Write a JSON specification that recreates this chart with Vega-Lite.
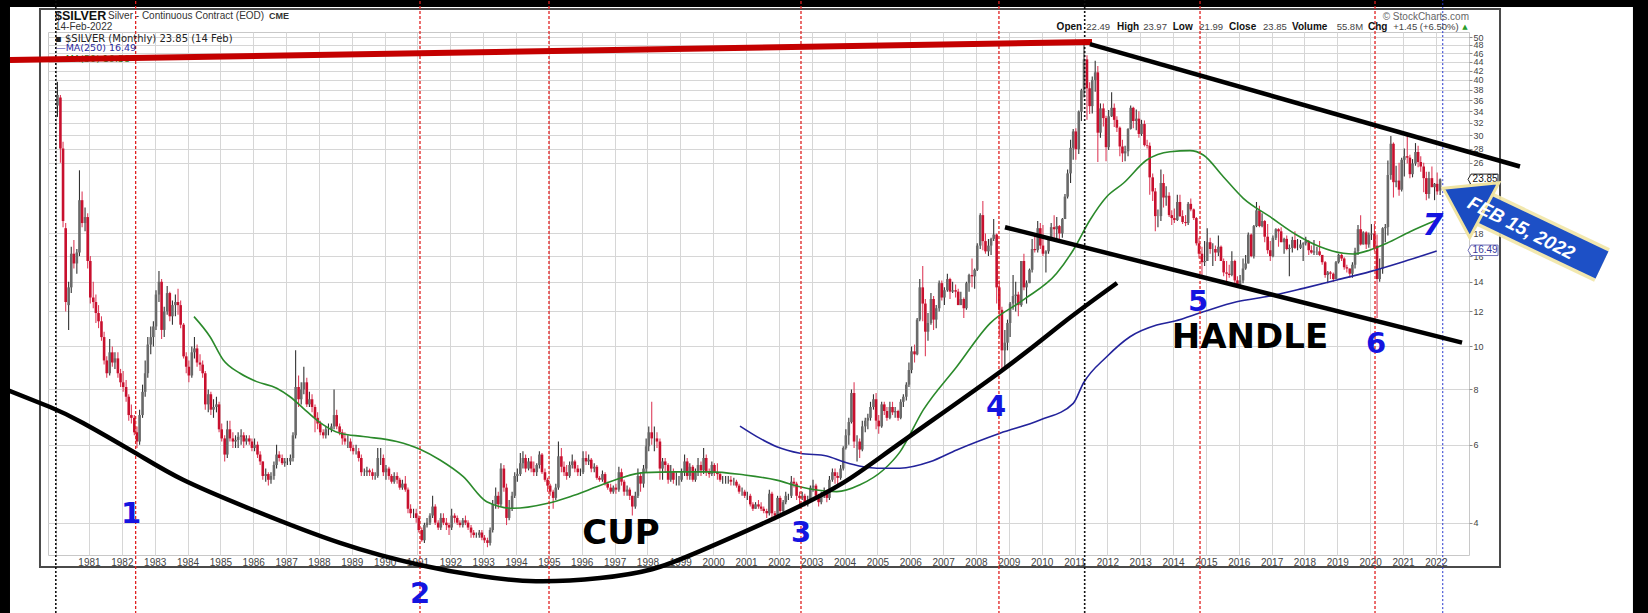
{
"$schema":"https://vega.github.io/schema/vega-lite/v6.json",
"width":1421,"height":523,
"autosize":{"type":"none"},
"padding":{"left":48,"top":32,"right":179,"bottom":58},
"background":"#ffffff",
"config":{"view":{"stroke":"#c8c8c8","strokeWidth":1},"font":"Liberation Sans","axis":{"labelOverlap":false,"labelFont":"Liberation Sans","labelColor":"#444444","gridColor":"#d6d6d6","domain":false}},
"data":{"values":[{}]},
"datasets":{
"candles":[
{"t":1980.04,"o":35,"h":39.6,"l":33,"c":37},{"t":1980.13,"o":36.5,"h":37,"l":26,"c":28},{"t":1980.21,"o":28,"h":29,"l":18.6,"c":19.2},{"t":1980.29,"o":18.5,"h":19,"l":12,"c":12.6},{"t":1980.38,"o":12.4,"h":14,"l":10.9,"c":13.6},{"t":1980.46,"o":13.6,"h":16.8,"l":13.2,"c":16.2},{"t":1980.54,"o":16.2,"h":17.4,"l":15,"c":15.4},{"t":1980.63,"o":15.4,"h":16.6,"l":14.6,"c":16.3},{"t":1980.71,"o":16.3,"h":25,"l":16,"c":21.4},{"t":1980.79,"o":21.4,"h":22.4,"l":18.6,"c":19},{"t":1980.88,"o":19,"h":20.6,"l":18.2,"c":19.6},{"t":1980.96,"o":19.6,"h":20,"l":15,"c":15.6},
{"t":1981.04,"o":15.6,"h":16,"l":12.5,"c":12.9},{"t":1981.13,"o":12.9,"h":14,"l":12.2,"c":12.6},{"t":1981.21,"o":12.6,"h":13.1,"l":11.3,"c":11.9},{"t":1981.29,"o":11.9,"h":12.4,"l":11,"c":11.4},{"t":1981.38,"o":11.4,"h":11.7,"l":10.3,"c":10.5},{"t":1981.46,"o":10.5,"h":10.8,"l":9.1,"c":9.3},{"t":1981.54,"o":9.3,"h":9.5,"l":8.5,"c":8.7},{"t":1981.63,"o":8.7,"h":10.4,"l":8.6,"c":9.7},{"t":1981.71,"o":9.7,"h":10,"l":9,"c":9.2},{"t":1981.79,"o":9.2,"h":9.7,"l":8.9,"c":9.4},{"t":1981.88,"o":9.4,"h":9.7,"l":8.5,"c":8.7},{"t":1981.96,"o":8.7,"h":8.9,"l":8.1,"c":8.3},
{"t":1982.04,"o":8.3,"h":8.8,"l":7.9,"c":8.1},{"t":1982.13,"o":8.1,"h":8.4,"l":7.5,"c":7.7},{"t":1982.21,"o":7.7,"h":7.8,"l":6.8,"c":7},{"t":1982.29,"o":7,"h":7.4,"l":6.7,"c":6.9},{"t":1982.38,"o":6.9,"h":7,"l":6.3,"c":6.4},{"t":1982.46,"o":6.4,"h":6.6,"l":5.9,"c":6.1},{"t":1982.54,"o":6.1,"h":7.2,"l":6,"c":7},{"t":1982.63,"o":7,"h":8.2,"l":6.9,"c":7.9},{"t":1982.71,"o":7.9,"h":9.3,"l":7.7,"c":8.7},{"t":1982.79,"o":8.7,"h":10.5,"l":8.5,"c":10.1},{"t":1982.88,"o":10.1,"h":11.1,"l":9.6,"c":10.5},{"t":1982.96,"o":10.5,"h":11.4,"l":10,"c":11.1},
{"t":1983.04,"o":11.1,"h":13.4,"l":10.9,"c":13.1},{"t":1983.13,"o":13.1,"h":14.8,"l":12.6,"c":14},{"t":1983.21,"o":14,"h":14.2,"l":10.4,"c":10.9},{"t":1983.29,"o":10.9,"h":12.3,"l":10.5,"c":12},{"t":1983.38,"o":12,"h":13.7,"l":11.8,"c":13.2},{"t":1983.46,"o":13.2,"h":13.3,"l":11.4,"c":11.7},{"t":1983.54,"o":11.7,"h":12.7,"l":11.2,"c":12.4},{"t":1983.63,"o":12.4,"h":13.1,"l":11.7,"c":12.6},{"t":1983.71,"o":12.6,"h":13.5,"l":11.8,"c":12.4},{"t":1983.79,"o":12.4,"h":12.7,"l":11,"c":11.2},{"t":1983.88,"o":11.2,"h":11.3,"l":9.4,"c":9.5},{"t":1983.96,"o":9.5,"h":9.7,"l":8.7,"c":9},
{"t":1984.04,"o":9,"h":9.3,"l":8.3,"c":8.6},{"t":1984.13,"o":8.6,"h":10,"l":8.5,"c":9.7},{"t":1984.21,"o":9.7,"h":10.5,"l":9.4,"c":9.9},{"t":1984.29,"o":9.9,"h":10.1,"l":9,"c":9.2},{"t":1984.38,"o":9.2,"h":9.6,"l":8.8,"c":9.1},{"t":1984.46,"o":9.1,"h":9.3,"l":8.5,"c":8.7},{"t":1984.54,"o":8.7,"h":8.8,"l":7.2,"c":7.4},{"t":1984.63,"o":7.4,"h":8,"l":7.1,"c":7.8},{"t":1984.71,"o":7.8,"h":7.9,"l":7,"c":7.2},{"t":1984.79,"o":7.2,"h":7.6,"l":6.9,"c":7.3},{"t":1984.88,"o":7.3,"h":7.7,"l":7.1,"c":7.4},{"t":1984.96,"o":7.4,"h":7.5,"l":6.4,"c":6.5},
{"t":1985.04,"o":6.5,"h":6.7,"l":6.1,"c":6.2},{"t":1985.13,"o":6.2,"h":6.3,"l":5.5,"c":5.7},{"t":1985.21,"o":5.7,"h":6.8,"l":5.6,"c":6.5},{"t":1985.29,"o":6.5,"h":6.8,"l":6.1,"c":6.2},{"t":1985.38,"o":6.2,"h":6.4,"l":5.9,"c":6.1},{"t":1985.46,"o":6.1,"h":6.3,"l":5.9,"c":6.15},{"t":1985.54,"o":6.15,"h":6.4,"l":5.9,"c":6.25},{"t":1985.63,"o":6.25,"h":6.5,"l":6,"c":6.3},{"t":1985.71,"o":6.3,"h":6.4,"l":5.9,"c":6.1},{"t":1985.79,"o":6.1,"h":6.3,"l":6,"c":6.2},{"t":1985.88,"o":6.2,"h":6.3,"l":6,"c":6.1},{"t":1985.96,"o":6.1,"h":6.2,"l":5.8,"c":5.9},
{"t":1986.04,"o":5.9,"h":6.2,"l":5.8,"c":6},{"t":1986.13,"o":6,"h":6.1,"l":5.6,"c":5.7},{"t":1986.21,"o":5.7,"h":5.8,"l":5.4,"c":5.5},{"t":1986.29,"o":5.5,"h":5.5,"l":5,"c":5.1},{"t":1986.38,"o":5.1,"h":5.3,"l":4.95,"c":5.15},{"t":1986.46,"o":5.15,"h":5.2,"l":4.85,"c":5},{"t":1986.54,"o":5,"h":5.2,"l":4.9,"c":5.1},{"t":1986.63,"o":5.1,"h":5.5,"l":5,"c":5.4},{"t":1986.71,"o":5.4,"h":6,"l":5.3,"c":5.7},{"t":1986.79,"o":5.7,"h":5.8,"l":5.5,"c":5.6},{"t":1986.88,"o":5.6,"h":5.7,"l":5.4,"c":5.45},{"t":1986.96,"o":5.45,"h":5.6,"l":5.35,"c":5.5},
{"t":1987.04,"o":5.5,"h":5.6,"l":5.4,"c":5.5},{"t":1987.13,"o":5.5,"h":5.7,"l":5.4,"c":5.6},{"t":1987.21,"o":5.6,"h":6.4,"l":5.5,"c":6.3},{"t":1987.29,"o":6.3,"h":9.8,"l":6.2,"c":8.1},{"t":1987.38,"o":8.1,"h":8.6,"l":7.3,"c":7.6},{"t":1987.46,"o":7.6,"h":8.3,"l":7.4,"c":8},{"t":1987.54,"o":8,"h":9,"l":7.8,"c":8.3},{"t":1987.63,"o":8.3,"h":8.5,"l":7.3,"c":7.4},{"t":1987.71,"o":7.4,"h":7.9,"l":7.3,"c":7.6},{"t":1987.79,"o":7.6,"h":7.8,"l":7.1,"c":7.3},{"t":1987.88,"o":7.3,"h":7.4,"l":6.4,"c":6.9},{"t":1987.96,"o":6.9,"h":7.1,"l":6.5,"c":6.7},
{"t":1988.04,"o":6.7,"h":6.8,"l":6.3,"c":6.4},{"t":1988.13,"o":6.4,"h":6.5,"l":6.2,"c":6.3},{"t":1988.21,"o":6.3,"h":6.6,"l":6.2,"c":6.5},{"t":1988.29,"o":6.5,"h":6.7,"l":6.3,"c":6.5},{"t":1988.38,"o":6.5,"h":6.7,"l":6.4,"c":6.6},{"t":1988.46,"o":6.6,"h":8,"l":6.5,"c":7},{"t":1988.54,"o":7,"h":7.2,"l":6.5,"c":6.6},{"t":1988.63,"o":6.6,"h":6.7,"l":6.3,"c":6.4},{"t":1988.71,"o":6.4,"h":6.5,"l":6,"c":6.2},{"t":1988.79,"o":6.2,"h":6.4,"l":6,"c":6.1},{"t":1988.88,"o":6.1,"h":6.3,"l":5.9,"c":6.1},{"t":1988.96,"o":6.1,"h":6.2,"l":5.8,"c":5.9},
{"t":1989.04,"o":5.9,"h":6,"l":5.7,"c":5.8},{"t":1989.13,"o":5.8,"h":6,"l":5.7,"c":5.8},{"t":1989.21,"o":5.8,"h":5.9,"l":5.5,"c":5.6},{"t":1989.29,"o":5.6,"h":5.7,"l":5.1,"c":5.2},{"t":1989.38,"o":5.2,"h":5.3,"l":5.1,"c":5.2},{"t":1989.46,"o":5.2,"h":5.35,"l":5.1,"c":5.25},{"t":1989.54,"o":5.25,"h":5.3,"l":5.1,"c":5.2},{"t":1989.63,"o":5.2,"h":5.3,"l":5,"c":5.1},{"t":1989.71,"o":5.1,"h":5.2,"l":5,"c":5.1},{"t":1989.79,"o":5.1,"h":5.9,"l":5.05,"c":5.6},{"t":1989.88,"o":5.6,"h":5.9,"l":5.4,"c":5.6},{"t":1989.96,"o":5.6,"h":5.7,"l":5.1,"c":5.2},
{"t":1990.04,"o":5.2,"h":5.4,"l":5,"c":5.3},{"t":1990.13,"o":5.3,"h":5.35,"l":5,"c":5.1},{"t":1990.21,"o":5.1,"h":5.15,"l":4.9,"c":4.95},{"t":1990.29,"o":4.95,"h":5.2,"l":4.9,"c":5.1},{"t":1990.38,"o":5.1,"h":5.2,"l":4.9,"c":5},{"t":1990.46,"o":5,"h":5.05,"l":4.75,"c":4.8},{"t":1990.54,"o":4.8,"h":5,"l":4.75,"c":4.9},{"t":1990.63,"o":4.9,"h":5.1,"l":4.7,"c":4.75},{"t":1990.71,"o":4.75,"h":4.8,"l":4.2,"c":4.3},{"t":1990.79,"o":4.3,"h":4.4,"l":4.1,"c":4.2},{"t":1990.88,"o":4.2,"h":4.3,"l":4.1,"c":4.2},{"t":1990.96,"o":4.2,"h":4.3,"l":4,"c":4.1},
{"t":1991.04,"o":4.1,"h":4.15,"l":3.8,"c":3.85},{"t":1991.13,"o":3.85,"h":3.9,"l":3.62,"c":3.65},{"t":1991.21,"o":3.65,"h":4,"l":3.6,"c":3.95},{"t":1991.29,"o":3.95,"h":4.1,"l":3.9,"c":4},{"t":1991.38,"o":4,"h":4.2,"l":3.95,"c":4.15},{"t":1991.46,"o":4.15,"h":4.6,"l":4.1,"c":4.35},{"t":1991.54,"o":4.35,"h":4.4,"l":3.95,"c":4},{"t":1991.63,"o":4,"h":4.05,"l":3.85,"c":3.9},{"t":1991.71,"o":3.9,"h":4.2,"l":3.85,"c":4.1},{"t":1991.79,"o":4.1,"h":4.2,"l":3.95,"c":4},{"t":1991.88,"o":4,"h":4.1,"l":3.85,"c":3.95},{"t":1991.96,"o":3.95,"h":4,"l":3.75,"c":3.9},
{"t":1992.04,"o":3.9,"h":4.3,"l":3.85,"c":4.15},{"t":1992.13,"o":4.15,"h":4.2,"l":4,"c":4.1},{"t":1992.21,"o":4.1,"h":4.15,"l":3.95,"c":4},{"t":1992.29,"o":4,"h":4.05,"l":3.9,"c":3.95},{"t":1992.38,"o":3.95,"h":4.1,"l":3.9,"c":4.05},{"t":1992.46,"o":4.05,"h":4.15,"l":3.95,"c":4},{"t":1992.54,"o":4,"h":4.05,"l":3.85,"c":3.9},{"t":1992.63,"o":3.9,"h":3.95,"l":3.7,"c":3.8},{"t":1992.71,"o":3.8,"h":3.85,"l":3.7,"c":3.75},{"t":1992.79,"o":3.75,"h":3.8,"l":3.7,"c":3.75},{"t":1992.88,"o":3.75,"h":3.85,"l":3.7,"c":3.8},{"t":1992.96,"o":3.8,"h":3.85,"l":3.65,"c":3.7},
{"t":1993.04,"o":3.7,"h":3.75,"l":3.6,"c":3.65},{"t":1993.13,"o":3.65,"h":3.7,"l":3.52,"c":3.6},{"t":1993.21,"o":3.6,"h":3.9,"l":3.55,"c":3.85},{"t":1993.29,"o":3.85,"h":4.5,"l":3.8,"c":4.4},{"t":1993.38,"o":4.4,"h":4.8,"l":4.3,"c":4.6},{"t":1993.46,"o":4.6,"h":4.7,"l":4.3,"c":4.4},{"t":1993.54,"o":4.4,"h":5.45,"l":4.35,"c":5.3},{"t":1993.63,"o":5.3,"h":5.4,"l":4.7,"c":4.8},{"t":1993.71,"o":4.8,"h":4.9,"l":3.95,"c":4.1},{"t":1993.79,"o":4.1,"h":4.5,"l":4.05,"c":4.3},{"t":1993.88,"o":4.3,"h":4.7,"l":4.25,"c":4.6},{"t":1993.96,"o":4.6,"h":5.2,"l":4.55,"c":5.1},
{"t":1994.04,"o":5.1,"h":5.3,"l":4.95,"c":5.15},{"t":1994.13,"o":5.15,"h":5.75,"l":5.1,"c":5.45},{"t":1994.21,"o":5.45,"h":5.8,"l":5.3,"c":5.6},{"t":1994.29,"o":5.6,"h":5.7,"l":5.2,"c":5.3},{"t":1994.38,"o":5.3,"h":5.6,"l":5.25,"c":5.5},{"t":1994.46,"o":5.5,"h":5.65,"l":5.2,"c":5.3},{"t":1994.54,"o":5.3,"h":5.5,"l":5.1,"c":5.2},{"t":1994.63,"o":5.2,"h":5.45,"l":5.1,"c":5.4},{"t":1994.71,"o":5.4,"h":5.8,"l":5.3,"c":5.7},{"t":1994.79,"o":5.7,"h":5.75,"l":5.15,"c":5.2},{"t":1994.88,"o":5.2,"h":5.3,"l":4.95,"c":5},{"t":1994.96,"o":5,"h":5.05,"l":4.7,"c":4.85},
{"t":1995.04,"o":4.85,"h":4.9,"l":4.6,"c":4.7},{"t":1995.13,"o":4.7,"h":4.75,"l":4.3,"c":4.55},{"t":1995.21,"o":4.55,"h":4.9,"l":4.5,"c":4.8},{"t":1995.29,"o":4.8,"h":6.1,"l":4.75,"c":5.65},{"t":1995.38,"o":5.65,"h":5.9,"l":5.2,"c":5.35},{"t":1995.46,"o":5.35,"h":5.5,"l":5.1,"c":5.2},{"t":1995.54,"o":5.2,"h":5.4,"l":5,"c":5.1},{"t":1995.63,"o":5.1,"h":5.5,"l":5.05,"c":5.4},{"t":1995.71,"o":5.4,"h":5.7,"l":5.3,"c":5.5},{"t":1995.79,"o":5.5,"h":5.55,"l":5.2,"c":5.3},{"t":1995.88,"o":5.3,"h":5.4,"l":5.1,"c":5.2},{"t":1995.96,"o":5.2,"h":5.3,"l":5.1,"c":5.2},
{"t":1996.04,"o":5.2,"h":5.8,"l":5.15,"c":5.6},{"t":1996.13,"o":5.6,"h":5.8,"l":5.4,"c":5.5},{"t":1996.21,"o":5.5,"h":5.7,"l":5.4,"c":5.55},{"t":1996.29,"o":5.55,"h":5.6,"l":5.2,"c":5.3},{"t":1996.38,"o":5.3,"h":5.45,"l":5.2,"c":5.35},{"t":1996.46,"o":5.35,"h":5.4,"l":5,"c":5.05},{"t":1996.54,"o":5.05,"h":5.1,"l":4.95,"c":5},{"t":1996.63,"o":5,"h":5.25,"l":4.95,"c":5.15},{"t":1996.71,"o":5.15,"h":5.2,"l":4.85,"c":4.9},{"t":1996.79,"o":4.9,"h":4.95,"l":4.75,"c":4.8},{"t":1996.88,"o":4.8,"h":4.9,"l":4.65,"c":4.7},{"t":1996.96,"o":4.7,"h":4.85,"l":4.65,"c":4.8},
{"t":1997.04,"o":4.8,"h":4.9,"l":4.65,"c":4.75},{"t":1997.13,"o":4.75,"h":5.35,"l":4.7,"c":5.2},{"t":1997.21,"o":5.2,"h":5.3,"l":4.85,"c":4.95},{"t":1997.29,"o":4.95,"h":5,"l":4.6,"c":4.7},{"t":1997.38,"o":4.7,"h":4.85,"l":4.6,"c":4.75},{"t":1997.46,"o":4.75,"h":4.8,"l":4.5,"c":4.6},{"t":1997.54,"o":4.6,"h":4.6,"l":4.15,"c":4.35},{"t":1997.63,"o":4.35,"h":4.7,"l":4.3,"c":4.6},{"t":1997.71,"o":4.6,"h":5.3,"l":4.55,"c":5.1},{"t":1997.79,"o":5.1,"h":5.2,"l":4.7,"c":4.9},{"t":1997.88,"o":4.9,"h":5.4,"l":4.8,"c":5.3},{"t":1997.96,"o":5.3,"h":6.2,"l":5.2,"c":5.95},
{"t":1998.04,"o":5.95,"h":6.6,"l":5.8,"c":6.4},{"t":1998.13,"o":6.4,"h":7.5,"l":6,"c":6.2},{"t":1998.21,"o":6.2,"h":6.6,"l":5.8,"c":6.2},{"t":1998.29,"o":6.2,"h":6.4,"l":5.9,"c":6.1},{"t":1998.38,"o":6.1,"h":6.2,"l":5,"c":5.3},{"t":1998.46,"o":5.3,"h":5.6,"l":5,"c":5.5},{"t":1998.54,"o":5.5,"h":5.6,"l":5.2,"c":5.4},{"t":1998.63,"o":5.4,"h":5.45,"l":4.9,"c":5},{"t":1998.71,"o":5,"h":5.4,"l":4.95,"c":5.2},{"t":1998.79,"o":5.2,"h":5.3,"l":4.9,"c":5},{"t":1998.88,"o":5,"h":5.2,"l":4.85,"c":5},{"t":1998.96,"o":5,"h":5.1,"l":4.85,"c":5},
{"t":1999.04,"o":5,"h":5.3,"l":4.95,"c":5.2},{"t":1999.13,"o":5.2,"h":5.7,"l":5.1,"c":5.5},{"t":1999.21,"o":5.5,"h":5.6,"l":5,"c":5.1},{"t":1999.29,"o":5.1,"h":5.45,"l":5,"c":5.35},{"t":1999.38,"o":5.35,"h":5.4,"l":4.95,"c":5},{"t":1999.46,"o":5,"h":5.3,"l":4.95,"c":5.2},{"t":1999.54,"o":5.2,"h":5.6,"l":5.1,"c":5.4},{"t":1999.63,"o":5.4,"h":5.5,"l":5.1,"c":5.25},{"t":1999.71,"o":5.25,"h":5.9,"l":5.15,"c":5.6},{"t":1999.79,"o":5.6,"h":5.7,"l":5.1,"c":5.2},{"t":1999.88,"o":5.2,"h":5.3,"l":5.05,"c":5.15},{"t":1999.96,"o":5.15,"h":5.5,"l":5.1,"c":5.4},
{"t":2000.04,"o":5.4,"h":5.45,"l":5.1,"c":5.2},{"t":2000.13,"o":5.2,"h":5.45,"l":5,"c":5.15},{"t":2000.21,"o":5.15,"h":5.2,"l":4.95,"c":5},{"t":2000.29,"o":5,"h":5.1,"l":4.9,"c":5},{"t":2000.38,"o":5,"h":5.1,"l":4.9,"c":5},{"t":2000.46,"o":5,"h":5.1,"l":4.9,"c":5},{"t":2000.54,"o":5,"h":5.1,"l":4.85,"c":4.95},{"t":2000.63,"o":4.95,"h":5.05,"l":4.85,"c":4.95},{"t":2000.71,"o":4.95,"h":5,"l":4.8,"c":4.85},{"t":2000.79,"o":4.85,"h":4.9,"l":4.65,"c":4.7},{"t":2000.88,"o":4.7,"h":4.8,"l":4.6,"c":4.7},{"t":2000.96,"o":4.7,"h":4.75,"l":4.55,"c":4.6},
{"t":2001.04,"o":4.6,"h":4.7,"l":4.5,"c":4.6},{"t":2001.13,"o":4.6,"h":4.65,"l":4.35,"c":4.4},{"t":2001.21,"o":4.4,"h":4.45,"l":4.25,"c":4.3},{"t":2001.29,"o":4.3,"h":4.45,"l":4.3,"c":4.4},{"t":2001.38,"o":4.4,"h":4.5,"l":4.3,"c":4.35},{"t":2001.46,"o":4.35,"h":4.45,"l":4.25,"c":4.3},{"t":2001.54,"o":4.3,"h":4.35,"l":4.2,"c":4.25},{"t":2001.63,"o":4.25,"h":4.3,"l":4.1,"c":4.2},{"t":2001.71,"o":4.2,"h":4.75,"l":4.15,"c":4.65},{"t":2001.79,"o":4.65,"h":4.7,"l":4.1,"c":4.2},{"t":2001.88,"o":4.2,"h":4.25,"l":4.05,"c":4.15},{"t":2001.96,"o":4.15,"h":4.6,"l":4.1,"c":4.55},
{"t":2002.04,"o":4.55,"h":4.6,"l":4.2,"c":4.25},{"t":2002.13,"o":4.25,"h":4.5,"l":4.2,"c":4.45},{"t":2002.21,"o":4.45,"h":4.7,"l":4.4,"c":4.6},{"t":2002.29,"o":4.6,"h":4.65,"l":4.5,"c":4.6},{"t":2002.38,"o":4.6,"h":5.1,"l":4.55,"c":4.95},{"t":2002.46,"o":4.95,"h":5.05,"l":4.8,"c":4.9},{"t":2002.54,"o":4.9,"h":4.95,"l":4.5,"c":4.6},{"t":2002.63,"o":4.6,"h":4.7,"l":4.4,"c":4.55},{"t":2002.71,"o":4.55,"h":4.7,"l":4.5,"c":4.6},{"t":2002.79,"o":4.6,"h":4.65,"l":4.35,"c":4.4},{"t":2002.88,"o":4.4,"h":4.6,"l":4.35,"c":4.5},{"t":2002.96,"o":4.5,"h":4.85,"l":4.45,"c":4.8},
{"t":2003.04,"o":4.8,"h":5,"l":4.7,"c":4.85},{"t":2003.13,"o":4.85,"h":4.9,"l":4.55,"c":4.6},{"t":2003.21,"o":4.6,"h":4.65,"l":4.35,"c":4.45},{"t":2003.29,"o":4.45,"h":4.7,"l":4.4,"c":4.6},{"t":2003.38,"o":4.6,"h":4.8,"l":4.55,"c":4.65},{"t":2003.46,"o":4.65,"h":4.75,"l":4.45,"c":4.55},{"t":2003.54,"o":4.55,"h":5.1,"l":4.5,"c":5},{"t":2003.63,"o":5,"h":5.3,"l":4.95,"c":5.2},{"t":2003.71,"o":5.2,"h":5.3,"l":4.9,"c":5.1},{"t":2003.79,"o":5.1,"h":5.2,"l":4.8,"c":5.05},{"t":2003.88,"o":5.05,"h":5.4,"l":5,"c":5.3},{"t":2003.96,"o":5.3,"h":5.95,"l":5.25,"c":5.9},
{"t":2004.04,"o":5.9,"h":6.5,"l":5.85,"c":6.3},{"t":2004.13,"o":6.3,"h":6.9,"l":6,"c":6.75},{"t":2004.21,"o":6.75,"h":8,"l":6.7,"c":7.85},{"t":2004.29,"o":7.85,"h":8.3,"l":5.9,"c":6.1},{"t":2004.38,"o":6.1,"h":6.3,"l":5.5,"c":6.1},{"t":2004.46,"o":6.1,"h":6.2,"l":5.6,"c":5.85},{"t":2004.54,"o":5.85,"h":6.8,"l":5.8,"c":6.6},{"t":2004.63,"o":6.6,"h":6.9,"l":6.4,"c":6.8},{"t":2004.71,"o":6.8,"h":7.05,"l":6.5,"c":6.9},{"t":2004.79,"o":6.9,"h":7.5,"l":6.8,"c":7.3},{"t":2004.88,"o":7.3,"h":7.8,"l":7.2,"c":7.6},{"t":2004.96,"o":7.6,"h":7.85,"l":6.5,"c":6.8},
{"t":2005.04,"o":6.8,"h":7,"l":6.35,"c":6.6},{"t":2005.13,"o":6.6,"h":7.5,"l":6.55,"c":7.4},{"t":2005.21,"o":7.4,"h":7.5,"l":7,"c":7.15},{"t":2005.29,"o":7.15,"h":7.3,"l":6.8,"c":6.9},{"t":2005.38,"o":6.9,"h":7.5,"l":6.85,"c":7.3},{"t":2005.46,"o":7.3,"h":7.5,"l":7,"c":7.1},{"t":2005.54,"o":7.1,"h":7.3,"l":6.9,"c":7.15},{"t":2005.63,"o":7.15,"h":7.2,"l":6.8,"c":6.9},{"t":2005.71,"o":6.9,"h":7.6,"l":6.85,"c":7.5},{"t":2005.79,"o":7.5,"h":7.8,"l":7.3,"c":7.7},{"t":2005.88,"o":7.7,"h":8.3,"l":7.55,"c":8.2},{"t":2005.96,"o":8.2,"h":9.2,"l":8.1,"c":8.85},
{"t":2006.04,"o":8.85,"h":10,"l":8.7,"c":9.75},{"t":2006.13,"o":9.75,"h":10.1,"l":9.2,"c":9.6},{"t":2006.21,"o":9.6,"h":11.6,"l":9.55,"c":11.5},{"t":2006.29,"o":11.5,"h":14.2,"l":11.4,"c":13.6},{"t":2006.38,"o":13.6,"h":15.2,"l":11.4,"c":12.5},{"t":2006.46,"o":12.5,"h":12.8,"l":9.5,"c":10.8},{"t":2006.54,"o":10.8,"h":11.9,"l":10.3,"c":11.3},{"t":2006.63,"o":11.3,"h":13.2,"l":11.2,"c":12.8},{"t":2006.71,"o":12.8,"h":13,"l":10.9,"c":11.5},{"t":2006.79,"o":11.5,"h":12.4,"l":11,"c":12.2},{"t":2006.88,"o":12.2,"h":14.1,"l":12,"c":13.9},{"t":2006.96,"o":13.9,"h":14.1,"l":12.7,"c":12.9},
{"t":2007.04,"o":12.9,"h":13.6,"l":12.4,"c":13.4},{"t":2007.13,"o":13.4,"h":14.6,"l":13.3,"c":14.2},{"t":2007.21,"o":14.2,"h":14.3,"l":12.8,"c":13.3},{"t":2007.29,"o":13.3,"h":14,"l":13.2,"c":13.4},{"t":2007.38,"o":13.4,"h":13.8,"l":12.9,"c":13.3},{"t":2007.46,"o":13.3,"h":13.5,"l":12.4,"c":12.4},{"t":2007.54,"o":12.4,"h":13.3,"l":12.4,"c":12.8},{"t":2007.63,"o":12.8,"h":12.9,"l":11.6,"c":12.2},{"t":2007.71,"o":12.2,"h":14,"l":12.1,"c":13.9},{"t":2007.79,"o":13.9,"h":14.6,"l":13.3,"c":14.5},{"t":2007.88,"o":14.5,"h":15.8,"l":13.6,"c":14.4},{"t":2007.96,"o":14.4,"h":15,"l":13.5,"c":14.9},
{"t":2008.04,"o":14.9,"h":17.1,"l":14.8,"c":16.9},{"t":2008.13,"o":16.9,"h":20,"l":16.6,"c":19.8},{"t":2008.21,"o":19.8,"h":21.3,"l":16.5,"c":17.3},{"t":2008.29,"o":17.3,"h":18,"l":16.2,"c":16.4},{"t":2008.38,"o":16.4,"h":17.5,"l":16,"c":16.9},{"t":2008.46,"o":16.9,"h":17.6,"l":16.1,"c":17.5},{"t":2008.54,"o":17.5,"h":19.4,"l":17.3,"c":17.9},{"t":2008.63,"o":17.9,"h":18,"l":12.5,"c":13.6},{"t":2008.71,"o":13.6,"h":14.1,"l":10.5,"c":12.1},{"t":2008.79,"o":12.1,"h":12.3,"l":8.8,"c":9.8},{"t":2008.88,"o":9.8,"h":10.9,"l":8.9,"c":10.2},{"t":2008.96,"o":10.2,"h":11.5,"l":9.8,"c":11.3},
{"t":2009.04,"o":11.3,"h":12.6,"l":10.5,"c":12.5},{"t":2009.13,"o":12.5,"h":14.5,"l":12.1,"c":13},{"t":2009.21,"o":13,"h":14,"l":12,"c":13.1},{"t":2009.29,"o":13.1,"h":13.3,"l":11.7,"c":12.4},{"t":2009.38,"o":12.4,"h":15.6,"l":12.3,"c":15.6},{"t":2009.46,"o":15.6,"h":16.2,"l":13.4,"c":13.6},{"t":2009.54,"o":13.6,"h":14.1,"l":12.5,"c":13.9},{"t":2009.63,"o":13.9,"h":15,"l":13.9,"c":14.9},{"t":2009.71,"o":14.9,"h":17.5,"l":14.7,"c":16.6},{"t":2009.79,"o":16.6,"h":18,"l":16.3,"c":16.5},{"t":2009.88,"o":16.5,"h":19.2,"l":16.3,"c":18.5},{"t":2009.96,"o":18.5,"h":19,"l":16.6,"c":16.9},
{"t":2010.04,"o":16.9,"h":18.8,"l":16,"c":16.2},{"t":2010.13,"o":16.2,"h":16.5,"l":14.7,"c":16.4},{"t":2010.21,"o":16.4,"h":17.7,"l":16.2,"c":17.5},{"t":2010.29,"o":17.5,"h":19,"l":17.3,"c":18.6},{"t":2010.38,"o":18.6,"h":19.8,"l":17.3,"c":18.4},{"t":2010.46,"o":18.4,"h":19.6,"l":17.5,"c":18.7},{"t":2010.54,"o":18.7,"h":18.8,"l":17.5,"c":18},{"t":2010.63,"o":18,"h":19.5,"l":17.6,"c":19.4},{"t":2010.71,"o":19.4,"h":22.1,"l":19.4,"c":21.8},{"t":2010.79,"o":21.8,"h":25.1,"l":21.6,"c":24.6},{"t":2010.88,"o":24.6,"h":29.3,"l":23.4,"c":28.1},{"t":2010.96,"o":28.1,"h":31,"l":26.4,"c":30.6},
{"t":2011.04,"o":30.6,"h":31.1,"l":26.4,"c":27.9},{"t":2011.13,"o":27.9,"h":34.1,"l":27.2,"c":33.9},{"t":2011.21,"o":33.9,"h":38.2,"l":32.3,"c":37.9},{"t":2011.29,"o":37.9,"h":48.6,"l":36.5,"c":44.5},{"t":2011.38,"o":44.5,"h":45.5,"l":32.5,"c":38.3},{"t":2011.46,"o":38.3,"h":39.5,"l":33.5,"c":34.9},{"t":2011.54,"o":34.9,"h":40.7,"l":33.6,"c":40},{"t":2011.63,"o":40,"h":44.2,"l":37.6,"c":41.6},{"t":2011.71,"o":41.6,"h":43,"l":26.1,"c":30.4},{"t":2011.79,"o":30.4,"h":35.4,"l":29.6,"c":34.5},{"t":2011.88,"o":34.5,"h":35.4,"l":31.4,"c":32.8},{"t":2011.96,"o":32.8,"h":33.2,"l":26.2,"c":28.2},
{"t":2012.04,"o":28.2,"h":34.2,"l":27.8,"c":33.1},{"t":2012.13,"o":33.1,"h":37.5,"l":33,"c":34.6},{"t":2012.21,"o":34.6,"h":35.4,"l":31.3,"c":32.5},{"t":2012.29,"o":32.5,"h":33.1,"l":30.5,"c":31.2},{"t":2012.38,"o":31.2,"h":31.4,"l":26.9,"c":28.3},{"t":2012.46,"o":28.3,"h":29.3,"l":26.1,"c":27.3},{"t":2012.54,"o":27.3,"h":28.4,"l":26.2,"c":27.6},{"t":2012.63,"o":27.6,"h":31.1,"l":26.9,"c":31},{"t":2012.71,"o":31,"h":35,"l":30.9,"c":34.6},{"t":2012.79,"o":34.6,"h":34.8,"l":31.1,"c":32.3},{"t":2012.88,"o":32.3,"h":34.3,"l":30.8,"c":32.7},{"t":2012.96,"o":32.7,"h":34,"l":29.6,"c":30.2},
{"t":2013.04,"o":30.2,"h":32.5,"l":29.9,"c":31.8},{"t":2013.13,"o":31.8,"h":32.4,"l":28.3,"c":28.5},{"t":2013.21,"o":28.5,"h":29.3,"l":28,"c":28.4},{"t":2013.29,"o":28.4,"h":28.9,"l":22,"c":24.1},{"t":2013.38,"o":24.1,"h":24.6,"l":21.3,"c":22.4},{"t":2013.46,"o":22.4,"h":22.8,"l":18.2,"c":19.7},{"t":2013.54,"o":19.7,"h":20.4,"l":18.6,"c":19.7},{"t":2013.63,"o":19.7,"h":25.1,"l":19.2,"c":23.4},{"t":2013.71,"o":23.4,"h":24.5,"l":20.6,"c":21.7},{"t":2013.79,"o":21.7,"h":23,"l":20.8,"c":21.9},{"t":2013.88,"o":21.9,"h":22.3,"l":19.6,"c":19.8},{"t":2013.96,"o":19.8,"h":20.3,"l":18.8,"c":19.5},
{"t":2014.04,"o":19.5,"h":20.5,"l":19,"c":19.3},{"t":2014.13,"o":19.3,"h":22,"l":19.2,"c":21.2},{"t":2014.21,"o":21.2,"h":22,"l":19.6,"c":19.7},{"t":2014.29,"o":19.7,"h":20.3,"l":18.9,"c":19.1},{"t":2014.38,"o":19.1,"h":19.8,"l":18.7,"c":19},{"t":2014.46,"o":19,"h":21.2,"l":18.8,"c":21},{"t":2014.54,"o":21,"h":21.6,"l":20.2,"c":20.4},{"t":2014.63,"o":20.4,"h":20.5,"l":19.3,"c":19.5},{"t":2014.71,"o":19.5,"h":19.6,"l":16.9,"c":17.1},{"t":2014.79,"o":17.1,"h":17.6,"l":15.8,"c":16.2},{"t":2014.88,"o":16.2,"h":16.8,"l":14.2,"c":15.5},{"t":2014.96,"o":15.5,"h":17.3,"l":15.2,"c":15.6},
{"t":2015.04,"o":15.6,"h":18.5,"l":15.6,"c":17.2},{"t":2015.13,"o":17.2,"h":17.6,"l":16.2,"c":16.6},{"t":2015.21,"o":16.6,"h":17.1,"l":15.2,"c":16.6},{"t":2015.29,"o":16.6,"h":16.9,"l":15.6,"c":16.3},{"t":2015.38,"o":16.3,"h":17.8,"l":16,"c":16.8},{"t":2015.46,"o":16.8,"h":16.9,"l":15.6,"c":15.6},{"t":2015.54,"o":15.6,"h":15.8,"l":14.4,"c":14.7},{"t":2015.63,"o":14.7,"h":15.6,"l":14,"c":14.6},{"t":2015.71,"o":14.6,"h":15.3,"l":14.3,"c":14.5},{"t":2015.79,"o":14.5,"h":16.4,"l":14.4,"c":15.6},{"t":2015.88,"o":15.6,"h":15.7,"l":13.9,"c":14.1},{"t":2015.96,"o":14.1,"h":14.4,"l":13.6,"c":13.8},
{"t":2016.04,"o":13.8,"h":14.5,"l":13.6,"c":14.1},{"t":2016.13,"o":14.1,"h":15.8,"l":13.9,"c":15},{"t":2016.21,"o":15,"h":16.1,"l":14.9,"c":15.4},{"t":2016.29,"o":15.4,"h":18.1,"l":15.4,"c":17.9},{"t":2016.38,"o":17.9,"h":18,"l":15.9,"c":16},{"t":2016.46,"o":16,"h":18.8,"l":15.8,"c":18.7},{"t":2016.54,"o":18.7,"h":21.2,"l":18.6,"c":20.3},{"t":2016.63,"o":20.3,"h":20.8,"l":18.6,"c":18.7},{"t":2016.71,"o":18.7,"h":20,"l":18.6,"c":19.2},{"t":2016.79,"o":19.2,"h":19.3,"l":17.2,"c":17.7},{"t":2016.88,"o":17.7,"h":18.9,"l":16.2,"c":16.5},{"t":2016.96,"o":16.5,"h":17.3,"l":15.6,"c":16},
{"t":2017.04,"o":16,"h":17.8,"l":15.9,"c":17.6},{"t":2017.13,"o":17.6,"h":18.5,"l":17.4,"c":18.4},{"t":2017.21,"o":18.4,"h":18.5,"l":16.8,"c":18.2},{"t":2017.29,"o":18.2,"h":18.6,"l":17.2,"c":17.2},{"t":2017.38,"o":17.2,"h":17.6,"l":16.2,"c":17.5},{"t":2017.46,"o":17.5,"h":17.8,"l":16.5,"c":16.6},{"t":2017.54,"o":16.6,"h":17,"l":14.4,"c":16.7},{"t":2017.63,"o":16.7,"h":17.7,"l":16.3,"c":17.4},{"t":2017.71,"o":17.4,"h":18.2,"l":16.6,"c":16.7},{"t":2017.79,"o":16.7,"h":17.5,"l":16.5,"c":16.7},{"t":2017.88,"o":16.7,"h":17.4,"l":16.6,"c":17},{"t":2017.96,"o":17,"h":17.2,"l":15.6,"c":17.1},
{"t":2018.04,"o":17.1,"h":17.7,"l":16.9,"c":17.3},{"t":2018.13,"o":17.3,"h":17.4,"l":16.1,"c":16.5},{"t":2018.21,"o":16.5,"h":16.9,"l":16.2,"c":16.3},{"t":2018.29,"o":16.3,"h":17.4,"l":16.1,"c":16.4},{"t":2018.38,"o":16.4,"h":16.8,"l":16.1,"c":16.4},{"t":2018.46,"o":16.4,"h":17.3,"l":16,"c":16.1},{"t":2018.54,"o":16.1,"h":16.1,"l":15.3,"c":15.5},{"t":2018.63,"o":15.5,"h":15.6,"l":14.3,"c":14.5},{"t":2018.71,"o":14.5,"h":14.8,"l":13.9,"c":14.7},{"t":2018.79,"o":14.7,"h":14.8,"l":14.2,"c":14.6},{"t":2018.88,"o":14.6,"h":14.7,"l":14,"c":14.2},{"t":2018.96,"o":14.2,"h":15.6,"l":14.2,"c":15.5},
{"t":2019.04,"o":15.5,"h":16.2,"l":15.4,"c":16.1},{"t":2019.13,"o":16.1,"h":16.2,"l":15.6,"c":15.8},{"t":2019.21,"o":15.8,"h":15.9,"l":14.9,"c":15.1},{"t":2019.29,"o":15.1,"h":15.3,"l":14.7,"c":15},{"t":2019.38,"o":15,"h":15,"l":14.3,"c":14.6},{"t":2019.46,"o":14.6,"h":15.5,"l":14.3,"c":15.3},{"t":2019.54,"o":15.3,"h":16.7,"l":15,"c":16.4},{"t":2019.63,"o":16.4,"h":18.8,"l":16.1,"c":18.4},{"t":2019.71,"o":18.4,"h":19.8,"l":16.9,"c":17},{"t":2019.79,"o":17,"h":18.2,"l":17,"c":18.1},{"t":2019.88,"o":18.1,"h":18.2,"l":16.6,"c":17},{"t":2019.96,"o":17,"h":18.1,"l":16.7,"c":17.9},
{"t":2020.04,"o":17.9,"h":18.9,"l":17.4,"c":18},{"t":2020.13,"o":18,"h":18.9,"l":16.4,"c":16.7},{"t":2020.21,"o":16.9,"h":17.9,"l":11.6,"c":14.2},{"t":2020.29,"o":14.2,"h":15.8,"l":14,"c":15},{"t":2020.38,"o":15,"h":18.6,"l":14.6,"c":18.5},{"t":2020.46,"o":18.5,"h":18.9,"l":17.2,"c":18.6},{"t":2020.54,"o":18.6,"h":26.3,"l":17.8,"c":24.4},{"t":2020.63,"o":24.4,"h":29.9,"l":23.8,"c":28.7},{"t":2020.71,"o":28.7,"h":28.9,"l":21.7,"c":23.5},{"t":2020.79,"o":23.5,"h":25.6,"l":22.9,"c":23.7},{"t":2020.88,"o":23.7,"h":26,"l":21.9,"c":22.6},{"t":2020.96,"o":22.6,"h":26.7,"l":22.4,"c":26.4},
{"t":2021.04,"o":26.4,"h":28,"l":24.2,"c":26.9},{"t":2021.13,"o":26.9,"h":30.1,"l":25.9,"c":26.7},{"t":2021.21,"o":26.7,"h":27.1,"l":24,"c":24.5},{"t":2021.29,"o":24.5,"h":26.5,"l":24.1,"c":25.9},{"t":2021.38,"o":25.9,"h":28.8,"l":25.6,"c":27.5},{"t":2021.46,"o":27.5,"h":28.4,"l":25.4,"c":26.1},{"t":2021.54,"o":26.1,"h":26.9,"l":24.8,"c":25.5},{"t":2021.63,"o":25.5,"h":26,"l":22.3,"c":24},{"t":2021.71,"o":24,"h":24.8,"l":21.4,"c":22.1},{"t":2021.79,"o":22.1,"h":24.8,"l":21.6,"c":24},{"t":2021.88,"o":24,"h":25.5,"l":22.9,"c":22.9},{"t":2021.96,"o":22.9,"h":23.4,"l":21.4,"c":23.3},
{"t":2022.04,"o":23.3,"h":24.7,"l":22,"c":22.4},{"t":2022.13,"o":22.49,"h":23.97,"l":21.99,"c":23.85}
],
"ma50":[{"t":1984.196,"p":11.68},{"t":1984.684,"p":10.52},{"t":1985.088,"p":9.32},{"t":1985.597,"p":8.7},{"t":1986.105,"p":8.33},{"t":1986.714,"p":8.05},{"t":1987.119,"p":7.7},{"t":1987.524,"p":7.25},{"t":1987.932,"p":6.82},{"t":1988.641,"p":6.37},{"t":1989.35,"p":6.26},{"t":1990.367,"p":6.1},{"t":1991.076,"p":5.86},{"t":1991.685,"p":5.54},{"t":1992.394,"p":5.08},{"t":1993.107,"p":4.46},{"t":1993.916,"p":4.31},{"t":1994.933,"p":4.42},{"t":1995.642,"p":4.58},{"t":1996.455,"p":4.82},{"t":1997.164,"p":5.04},{"t":1997.874,"p":5.19},{"t":1998.891,"p":5.21},{"t":1999.904,"p":5.21},{"t":2000.918,"p":5.13},{"t":2001.935,"p":4.99},{"t":2002.644,"p":4.82},{"t":2003.152,"p":4.74},{"t":2003.761,"p":4.7},{"t":2004.47,"p":4.87},{"t":2005.18,"p":5.26},{"t":2005.688,"p":5.78},{"t":2006.397,"p":7.19},{"t":2007.414,"p":9.0},{"t":2008.428,"p":11.28},{"t":2009.441,"p":12.74},{"t":2010.458,"p":14.63},{"t":2010.963,"p":16.52},{"t":2011.472,"p":19.31},{"t":2011.98,"p":21.79},{"t":2012.486,"p":23.37},{"t":2013.198,"p":26.37},{"t":2013.907,"p":27.54},{"t":2014.516,"p":27.69},{"t":2014.921,"p":27.07},{"t":2015.53,"p":24.18},{"t":2016.139,"p":21.61},{"t":2016.951,"p":19.64},{"t":2017.764,"p":17.86},{"t":2018.473,"p":16.8},{"t":2019.183,"p":16.24},{"t":2019.487,"p":16.18},{"t":2019.996,"p":16.52},{"t":2020.504,"p":17.1},{"t":2021.213,"p":18.17},{"t":2022.026,"p":19.31}],
"ma250":[{"t":2000.817,"p":6.61},{"t":2001.426,"p":6.2},{"t":2001.935,"p":5.94},{"t":2002.644,"p":5.74},{"t":2003.457,"p":5.66},{"t":2003.963,"p":5.49},{"t":2004.571,"p":5.35},{"t":2004.979,"p":5.31},{"t":2005.688,"p":5.31},{"t":2006.601,"p":5.49},{"t":2007.414,"p":5.84},{"t":2008.732,"p":6.37},{"t":2009.95,"p":6.82},{"t":2010.963,"p":7.44},{"t":2011.268,"p":8.26},{"t":2011.98,"p":9.48},{"t":2012.69,"p":10.52},{"t":2013.502,"p":11.18},{"t":2014.059,"p":11.42},{"t":2014.921,"p":11.98},{"t":2015.938,"p":12.62},{"t":2016.951,"p":13.0},{"t":2017.965,"p":13.53},{"t":2018.982,"p":14.13},{"t":2019.996,"p":14.76},{"t":2021.009,"p":15.54},{"t":2022.026,"p":16.43}],
"cup":[{"t":1978.291,"p":8.1},{"t":1979.813,"p":7.3},{"t":1980.817,"p":6.72},{"t":1982.461,"p":5.72},{"t":1983.862,"p":5.0},{"t":1985.901,"p":4.3},{"t":1988.641,"p":3.6},{"t":1991.076,"p":3.21},{"t":1992.903,"p":3.03},{"t":1994.607,"p":2.95},{"t":1996.556,"p":3.0},{"t":1998.138,"p":3.14},{"t":1999.6,"p":3.45},{"t":2001.944,"p":4.12},{"t":2003.953,"p":4.92},{"t":2005.688,"p":6.05},{"t":2008.732,"p":8.76},{"t":2010.65,"p":11.3},{"t":2012.295,"p":13.91}]
},
"resolve":{"axis":{"x":"shared","y":"shared"}},
"layer":[
{"data":{"name":"candles"},"mark":{"type":"rule","strokeWidth":1.1,"clip":false},
 "encoding":{
  "x":{"field":"t","type":"quantitative","scale":{"domain":[1979.752,2023.009],"nice":false,"zero":false},
   "axis":{"orient":"bottom","tickCount":500,"values":[1980,1980.5,1981,1981.5,1982,1982.5,1983,1983.5,1984,1984.5,1985,1985.5,1986,1986.5,1987,1987.5,1988,1988.5,1989,1989.5,1990,1990.5,1991,1991.5,1992,1992.5,1993,1993.5,1994,1994.5,1995,1995.5,1996,1996.5,1997,1997.5,1998,1998.5,1999,1999.5,2000,2000.5,2001,2001.5,2002,2002.5,2003,2003.5,2004,2004.5,2005,2005.5,2006,2006.5,2007,2007.5,2008,2008.5,2009,2009.5,2010,2010.5,2011,2011.5,2012,2012.5,2013,2013.5,2014,2014.5,2015,2015.5,2016,2016.5,2017,2017.5,2018,2018.5,2019,2019.5,2020,2020.5,2021,2021.5,2022,2022.5],
    "format":"d","labelExpr":"(datum.value % 1 == 0 && datum.value > 1980) ? datum.label : ''",
    "grid":true,"gridColor":"#d6d6d6","gridWidth":1,"ticks":false,"tickSize":0,"domain":false,
    "labelFontSize":10,"labelColor":"#444444","labelFont":"Liberation Sans","labelPadding":2,"title":null,"labelOverlap":false,"labelSeparation":0,"labelFlush":false,"labelBound":false}},
  "y":{"field":"l","type":"quantitative","scale":{"type":"log","domain":[3.381,51.32],"nice":false},
   "axis":{"orient":"right","tickCount":500,"values":[4,6,8,10,12,14,16,18,26,28,30,32,34,36,38,40,42,44,46,48,50],"format":"d",
    "grid":true,"gridColor":"#d6d6d6","gridWidth":1,"ticks":true,"tickSize":3,"tickColor":"#888888","domain":false,
    "labelFontSize":9,"labelColor":"#444444","labelFont":"Liberation Sans","labelPadding":1,"title":null,"labelOverlap":false,"labelBound":false}},
  "y2":{"field":"h"},
  "color":{"condition":{"test":"datum.c >= datum.o","value":"#333333"},"value":"#de3f5c"}}},
{"data":{"name":"candles"},"mark":{"type":"rule","strokeWidth":2.6,"clip":false},
 "encoding":{"x":{"field":"t","type":"quantitative"},"y":{"field":"o","type":"quantitative"},"y2":{"field":"c"},
  "color":{"condition":{"test":"datum.c >= datum.o","value":"#6a6a6a"},"value":"#c8102e"}}},
{"mark":{"type":"rect","color":"#000000","clip":false},
 "encoding":{"x":{"datum":1976.77,"type":"quantitative"},"x2":{"datum":2030.04},"y":{"datum":58.45,"type":"quantitative"},"y2":{"datum":100}}},
{"mark":{"type":"rect","color":"#000000","clip":false},
 "encoding":{"x":{"datum":1976.77,"type":"quantitative"},"x2":{"datum":1978.595},"y":{"datum":1,"type":"quantitative"},"y2":{"datum":100}}},
{"mark":{"type":"rect","color":"#000000","clip":false},
 "encoding":{"x":{"datum":2028.0,"type":"quantitative"},"x2":{"datum":2030.04},"y":{"datum":1,"type":"quantitative"},"y2":{"datum":100}}},
{"mark":{"type":"rect","fillOpacity":0,"stroke":"#4a4a4a","strokeWidth":2,"clip":false},
 "encoding":{"x":{"datum":1979.508,"type":"quantitative"},"x2":{"datum":2023.953},"y":{"datum":3.177,"type":"quantitative"},"y2":{"datum":57.84}}},
{"data":{"name":"ma50"},"mark":{"type":"line","color":"#2b8a2b","strokeWidth":1.6,"interpolate":"monotone","clip":false},
 "encoding":{"x":{"field":"t","type":"quantitative"},"y":{"field":"p","type":"quantitative"}}},
{"data":{"name":"ma250"},"mark":{"type":"line","color":"#23239b","strokeWidth":1.6,"interpolate":"monotone","clip":false},
 "encoding":{"x":{"field":"t","type":"quantitative"},"y":{"field":"p","type":"quantitative"}}},
{"data":{"values":[{"t":1982.42},{"t":1991.076},{"t":1995.003},{"t":2002.674},{"t":2008.7},{"t":2014.821},{"t":2020.148}]},
 "mark":{"type":"rule","color":"#e02020","strokeDash":[3,2],"strokeWidth":1.3,"clip":false},
 "encoding":{"x":{"field":"t","type":"quantitative"},"y":{"datum":2.3,"type":"quantitative"},"y2":{"datum":75}}},
{"data":{"values":[{"t":1979.99},{"t":2011.31}]},
 "mark":{"type":"rule","color":"#111111","strokeDash":[2,2],"strokeWidth":1.6,"clip":false},
 "encoding":{"x":{"field":"t","type":"quantitative"},"y":{"datum":2.3,"type":"quantitative"},"y2":{"datum":75}}},
{"data":{"values":[{"t":2022.21}]},
 "mark":{"type":"rule","color":"#2233cc","strokeDash":[2,2],"strokeWidth":1,"clip":false},
 "encoding":{"x":{"field":"t","type":"quantitative"},"y":{"datum":2.3,"type":"quantitative"},"y2":{"datum":75}}},
{"data":{"values":[{"t":1979.965,"p":55.77,"s":"$SILVER"}]},
 "mark":{"type":"text","align":"left","baseline":"middle","fontSize":12.5,"fontWeight":"bold","color":"#111111","font":"Liberation Sans","clip":false},
 "encoding":{"x":{"field":"t","type":"quantitative"},"y":{"field":"p","type":"quantitative"},"text":{"field":"s"}}},
{"data":{"values":[{"t":1981.578,"p":55.77,"s":"Silver - Continuous Contract (EOD)"},{"t":1979.965,"p":52.6,"s":"14-Feb-2022"}]},
 "mark":{"type":"text","align":"left","baseline":"middle","fontSize":10,"color":"#333333","font":"Liberation Sans","clip":false},
 "encoding":{"x":{"field":"t","type":"quantitative"},"y":{"field":"p","type":"quantitative"},"text":{"field":"s"}}},
{"data":{"values":[{"t":1986.48,"p":55.77,"s":"CME"}]},
 "mark":{"type":"text","align":"left","baseline":"middle","fontSize":9,"fontWeight":"bold","color":"#333333","font":"Liberation Sans","clip":false},
 "encoding":{"x":{"field":"t","type":"quantitative"},"y":{"field":"p","type":"quantitative"},"text":{"field":"s"}}},
{"data":{"values":[{"t":1979.965,"p":49.56,"s":"▪ $SILVER (Monthly) 23.85 (14 Feb)"}]},
 "mark":{"type":"text","align":"left","baseline":"middle","fontSize":10,"color":"#222222","font":"DejaVu Sans","clip":false},
 "encoding":{"x":{"field":"t","type":"quantitative"},"y":{"field":"p","type":"quantitative"},"text":{"field":"s"}}},
{"data":{"values":[{"t":1980.0,"p":47.29,"s":"—MA(250) 16.49"}]},
 "mark":{"type":"text","align":"left","baseline":"middle","fontSize":9.5,"color":"#2a2aa0","font":"DejaVu Sans","clip":false},
 "encoding":{"x":{"field":"t","type":"quantitative"},"y":{"field":"p","type":"quantitative"},"text":{"field":"s"}}},
{"data":{"values":[{"t":1980.0,"p":44.7,"s":"—MA(50) 19.58"}]},
 "mark":{"type":"text","align":"left","baseline":"middle","fontSize":9.5,"color":"#2a8a2a","font":"DejaVu Sans","clip":false},
 "encoding":{"x":{"field":"t","type":"quantitative"},"y":{"field":"p","type":"quantitative"},"text":{"field":"s"}}},
{"data":{"values":[{"t":2023.009,"p":55.48,"s":"© StockCharts.com"}]},
 "mark":{"type":"text","align":"right","baseline":"middle","fontSize":10,"color":"#666666","font":"Liberation Sans","clip":false},
 "encoding":{"x":{"field":"t","type":"quantitative"},"y":{"field":"p","type":"quantitative"},"text":{"field":"s"}}},
{"data":{"values":[{"t":2010.455,"p":52.6,"s":"Open"},{"t":2012.294,"p":52.6,"s":"High"},{"t":2013.989,"p":52.6,"s":"Low"},{"t":2015.703,"p":52.6,"s":"Close"},{"t":2017.621,"p":52.6,"s":"Volume"},{"t":2019.935,"p":52.6,"s":"Chg"}]},
 "mark":{"type":"text","align":"left","baseline":"middle","fontSize":10,"fontWeight":"bold","color":"#111111","font":"Liberation Sans","clip":false},
 "encoding":{"x":{"field":"t","type":"quantitative"},"y":{"field":"p","type":"quantitative"},"text":{"field":"s"}}},
{"data":{"values":[{"t":2011.36,"p":52.6,"s":"22.49"},{"t":2013.09,"p":52.6,"s":"23.97"},{"t":2014.8,"p":52.6,"s":"21.99"},{"t":2016.74,"p":52.6,"s":"23.85"},{"t":2018.98,"p":52.6,"s":"55.8M"},{"t":2020.7,"p":52.6,"s":"+1.45 (+6.50%)"}]},
 "mark":{"type":"text","align":"left","baseline":"middle","fontSize":9.5,"color":"#444444","font":"Liberation Sans","clip":false},
 "encoding":{"x":{"field":"t","type":"quantitative"},"y":{"field":"p","type":"quantitative"},"text":{"field":"s"}}},
{"data":{"values":[{"t":2022.8,"p":52.6,"s":"▲"}]},
 "mark":{"type":"text","align":"left","baseline":"middle","fontSize":7,"color":"#2a9d2a","font":"DejaVu Sans","clip":false},
 "encoding":{"x":{"field":"t","type":"quantitative"},"y":{"field":"p","type":"quantitative"},"text":{"field":"s"}}},
{"data":{"values":[{"t":1978.595,"p":44.37},{"t":2011.533,"p":48.72}]},
 "mark":{"type":"line","color":"#c40000","strokeWidth":6,"strokeCap":"butt","clip":false},
 "encoding":{"x":{"field":"t","type":"quantitative"},"y":{"field":"p","type":"quantitative"}}},
{"data":{"values":[{"t":2011.47,"p":48.2},{"t":2024.56,"p":25.5}]},
 "mark":{"type":"line","color":"#000000","strokeWidth":4.5,"clip":false},
 "encoding":{"x":{"field":"t","type":"quantitative"},"y":{"field":"p","type":"quantitative"}}},
{"data":{"values":[{"t":2008.885,"p":18.59},{"t":2022.797,"p":10.2}]},
 "mark":{"type":"line","color":"#000000","strokeWidth":4.5,"clip":false},
 "encoding":{"x":{"field":"t","type":"quantitative"},"y":{"field":"p","type":"quantitative"}}},
{"data":{"name":"cup"},
 "mark":{"type":"line","color":"#000000","strokeWidth":4.5,"interpolate":"natural","clip":false},
 "encoding":{"x":{"field":"t","type":"quantitative"},"y":{"field":"p","type":"quantitative"}}},
{"data":{"values":[{"t":1982.279,"p":4.185,"s":"1"},{"t":1991.076,"p":2.76,"s":"2"},{"t":2002.674,"p":3.79,"s":"3"},{"t":2008.61,"p":7.3,"s":"4"},{"t":2014.76,"p":12.6,"s":"5"},{"t":2020.178,"p":10.13,"s":"6"}]},
 "mark":{"type":"text","align":"center","baseline":"middle","fontSize":29,"fontWeight":"bold","color":"#1414e0","font":"DejaVu Sans","clip":false},
 "encoding":{"x":{"field":"t","type":"quantitative"},"y":{"field":"p","type":"quantitative"},"text":{"field":"s"}}},
{"data":{"values":[{"t":2021.913,"p":18.71,"s":"7"}]},
 "mark":{"type":"text","align":"center","baseline":"middle","fontSize":30,"fontWeight":"bold","fontStyle":"italic","color":"#1414e0","font":"DejaVu Sans","clip":false},
 "encoding":{"x":{"field":"t","type":"quantitative"},"y":{"field":"p","type":"quantitative"},"text":{"field":"s"}}},
{"data":{"values":[{"t":1997.195,"p":3.77,"s":"CUP"},{"t":2016.342,"p":10.45,"s":"HANDLE"}]},
 "mark":{"type":"text","align":"center","baseline":"middle","fontSize":34,"fontWeight":"bold","color":"#000000","font":"DejaVu Sans","clip":false},
 "encoding":{"x":{"field":"t","type":"quantitative"},"y":{"field":"p","type":"quantitative"},"text":{"field":"s"}}},
{"data":{"values":[{"t":2023.436,"p":23.85}]},
 "mark":{"type":"point","shape":"M-1,0L-0.8,-0.35L1,-0.35L1,0.35L-0.8,0.35Z","size":900,"filled":true,"fill":"#ffffff","stroke":"#222222","strokeWidth":1,"opacity":1,"clip":false},
 "encoding":{"x":{"field":"t","type":"quantitative"},"y":{"field":"p","type":"quantitative"}}},
{"data":{"values":[{"t":2023.436,"p":16.49}]},
 "mark":{"type":"point","shape":"M-1,0L-0.8,-0.35L1,-0.35L1,0.35L-0.8,0.35Z","size":900,"filled":true,"fill":"#ffffff","stroke":"#7070b8","strokeWidth":1,"opacity":1,"clip":false},
 "encoding":{"x":{"field":"t","type":"quantitative"},"y":{"field":"p","type":"quantitative"}}},
{"data":{"values":[{"t":2023.5,"p":23.85,"s":"23.85"}]},
 "mark":{"type":"text","align":"center","baseline":"middle","fontSize":10,"color":"#111111","font":"Liberation Sans","clip":false},
 "encoding":{"x":{"field":"t","type":"quantitative"},"y":{"field":"p","type":"quantitative"},"text":{"field":"s"}}},
{"data":{"values":[{"t":2023.5,"p":16.49,"s":"16.49"}]},
 "mark":{"type":"text","align":"center","baseline":"middle","fontSize":10,"color":"#3a3a9a","font":"Liberation Sans","clip":false},
 "encoding":{"x":{"field":"t","type":"quantitative"},"y":{"field":"p","type":"quantitative"},"text":{"field":"s"}}},
{"data":{"values":[{"t":2023.283,"p":20.76},{"t":2027.058,"p":15.28}]},
 "mark":{"type":"line","color":"#f1e6a6","strokeWidth":37,"strokeCap":"butt","opacity":0.9,"clip":false},
 "encoding":{"x":{"field":"t","type":"quantitative"},"y":{"field":"p","type":"quantitative"}}},
{"data":{"values":[{"t":2023.283,"p":20.76},{"t":2027.058,"p":15.28}]},
 "mark":{"type":"line","color":"#1d50c6","strokeWidth":30,"strokeCap":"butt","clip":false},
 "encoding":{"x":{"field":"t","type":"quantitative"},"y":{"field":"p","type":"quantitative"}}},
{"data":{"values":[{"t":2023.058,"p":21.1}]},
 "mark":{"type":"point","shape":"M-1,0L0.5,-1L0.5,1Z","size":3844,"angle":28,"filled":true,"fill":"#1a4cc2","stroke":"#efe3a0","strokeWidth":3,"opacity":1,"clip":false},
 "encoding":{"x":{"field":"t","type":"quantitative"},"y":{"field":"p","type":"quantitative"}}},
{"data":{"values":[{"t":2024.6,"p":18.5,"s":"FEB 15, 2022"}]},
 "mark":{"type":"text","align":"center","baseline":"middle","fontSize":19,"fontWeight":"bold","fontStyle":"italic","angle":27,"color":"#ffffff","font":"Liberation Sans","clip":false},
 "encoding":{"x":{"field":"t","type":"quantitative"},"y":{"field":"p","type":"quantitative"},"text":{"field":"s"}}}
]
}
